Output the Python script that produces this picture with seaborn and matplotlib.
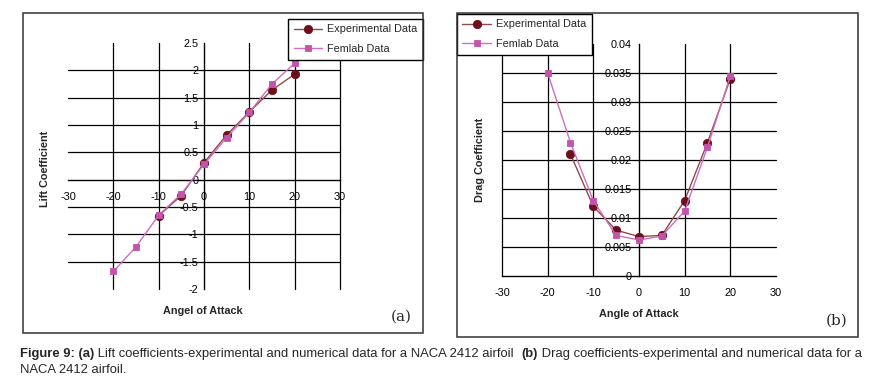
import matplotlib
matplotlib.use("Agg")
import matplotlib.pyplot as plt
import numpy as np
import seaborn as sns
from matplotlib.patches import Rectangle

# %% Data
angle_lift_exp = [-10, -5, 0, 5, 10, 15, 20]
lift_exp = [-0.66, -0.29, 0.31, 0.82, 1.24, 1.64, 1.93]
angle_lift_fem = [-20, -15, -10, -5, 0, 5, 10, 15, 20]
lift_fem = [-1.68, -1.23, -0.65, -0.26, 0.28, 0.77, 1.23, 1.75, 2.13]

angle_drag_exp = [-15, -10, -5, 0, 5, 10, 15, 20]
drag_exp = [0.021, 0.012, 0.0079, 0.0068, 0.007, 0.013, 0.023, 0.034]
angle_drag_fem = [-20, -15, -10, -5, 0, 5, 10, 15, 20]
drag_fem = [0.035, 0.023, 0.013, 0.007, 0.0062, 0.0069, 0.0112, 0.0222, 0.0345]

x_ticks = [-30, -20, -10, 0, 10, 20, 30]
lift_ticks = [-2, -1.5, -1, -0.5, 0, 0.5, 1, 1.5, 2, 2.5]
drag_ticks = [0, 0.005, 0.01, 0.015, 0.02, 0.025, 0.03, 0.035, 0.04]

series_names = ["Experimental Data", "Femlab Data"]

# %% Style
sns.set_style("white")
plt.rcParams["font.family"] = ["Liberation Sans", "DejaVu Sans"]
plt.rcParams["axes.unicode_minus"] = False

EXP_LINE = "#8E4B4B"
EXP_MARK = "#6E0F1C"
FEM_LINE = "#CF6DBE"
FEM_MARK = "#C254AC"

fig = plt.figure(figsize=(8.75, 3.8), dpi=100)
fig.patch.set_facecolor("white")

# panel frames
for rect in [(0.0263, 0.1237, 0.4571, 0.8421), (0.5223, 0.1132, 0.4583, 0.8526)]:
    fig.add_artist(Rectangle(rect[:2], rect[2], rect[3], transform=fig.transFigure,
                             fill=False, edgecolor="#333333", lw=1.1))

ax_l = fig.add_axes([0.0777, 0.2395, 0.3109, 0.6474])
ax_r = fig.add_axes([0.5737, 0.2737, 0.3131, 0.6105])


def draw_series(ax, x, y, line_color, mark_color, marker, size, label):
    sns.lineplot(x=x, y=y, ax=ax, color=line_color, lw=1.0, marker=marker,
                 markersize=size, markerfacecolor=mark_color,
                 markeredgecolor=mark_color, markeredgewidth=0.6,
                 label=label, clip_on=False, zorder=5)


def style_axes(ax, yticks, hide_x, hide_y, xpad, ypad):
    ax.set_xlim(-30, 30)
    ax.set_ylim(yticks[0], yticks[-1])
    ax.set_xticks(x_ticks)
    ax.set_yticks(yticks)
    ax.set_xticklabels([f"{v:g}" for v in x_ticks])
    ax.set_yticklabels([f"{v:g}" for v in yticks])
    for s in ["top", "right"]:
        ax.spines[s].set_visible(False)
    ax.spines["left"].set_position(("data", 0))
    ax.spines["bottom"].set_position(("data", 0))
    for s in ["left", "bottom"]:
        ax.spines[s].set_color("black")
        ax.spines[s].set_linewidth(1.0)
    ax.grid(True, color="black", lw=0.9)
    ax.set_axisbelow(True)
    for tick, v in zip(ax.xaxis.get_major_ticks(), x_ticks):
        tick.gridline.set_clip_on(False)
        if v in hide_x:
            tick.gridline.set_visible(False)
    for tick, v in zip(ax.yaxis.get_major_ticks(), yticks):
        tick.gridline.set_clip_on(False)
        if v in hide_y:
            tick.gridline.set_visible(False)
    ax.tick_params(axis="both", direction="inout", length=4, width=0.8,
                   labelsize=7.8, colors="black")
    ax.tick_params(axis="x", pad=xpad)
    ax.tick_params(axis="y", pad=ypad)
    ax.set_facecolor("none")


def add_legend(ax, loc, anchor):
    leg = ax.legend(loc=loc, bbox_to_anchor=anchor, bbox_transform=fig.transFigure,
                    fontsize=7.8, frameon=True, fancybox=False, edgecolor="black",
                    framealpha=1, handlelength=2.6, borderpad=0.5, labelspacing=0.9,
                    handletextpad=0.5, borderaxespad=0)
    leg.get_frame().set_linewidth(1.0)


# %% Panel (a): lift
draw_series(ax_l, angle_lift_exp, lift_exp, EXP_LINE, EXP_MARK, "o", 6, series_names[0])
draw_series(ax_l, angle_lift_fem, lift_fem, FEM_LINE, FEM_MARK, "s", 5, series_names[1])
style_axes(ax_l, lift_ticks, hide_x=[-30, 0], hide_y=[-2, 0, 2.5], xpad=7, ypad=2)
ax_l.set_xlabel("Angel of Attack", fontsize=7.8, fontweight="bold")
ax_l.set_ylabel("Lift Coefficient", fontsize=7.8, fontweight="bold")
ax_l.xaxis.set_label_coords(0.496, -0.069)
ax_l.yaxis.set_label_coords(-0.066, 0.49)
add_legend(ax_l, "upper right", (0.4834, 0.95))
fig.text(0.459, 0.166, "(a)", family="DejaVu Serif", fontsize=11, ha="center", va="center")

# %% Panel (b): drag
draw_series(ax_r, angle_drag_exp, drag_exp, EXP_LINE, EXP_MARK, "o", 6, series_names[0])
draw_series(ax_r, angle_drag_fem, drag_fem, FEM_LINE, FEM_MARK, "s", 5, series_names[1])
style_axes(ax_r, drag_ticks, hide_x=[0, 30], hide_y=[0, 0.04], xpad=7, ypad=3)
ax_r.set_xlabel("Angle of Attack", fontsize=7.8, fontweight="bold")
ax_r.set_ylabel("Drag Coefficient", fontsize=7.8, fontweight="bold")
ax_r.xaxis.set_label_coords(0.5, -0.142)
ax_r.yaxis.set_label_coords(-0.062, 0.5)
add_legend(ax_r, "upper left", (0.5223, 0.963))
fig.text(0.9566, 0.155, "(b)", family="DejaVu Serif", fontsize=11, ha="center", va="center")

# %% Caption with bold pieces
caption_line1 = [("Figure 9: (a)", "bold"),
                 (" Lift coefficients-experimental and numerical data for a NACA 2412 airfoil  ", "normal"),
                 ("(b)", "bold"),
                 (" Drag coefficients-experimental and numerical data for a", "normal")]
caption_line2 = "NACA 2412 airfoil."
CAP_SIZE = 9.35

prev = fig.text(20 / 875, 1 - 354 / 380, caption_line1[0][0], fontsize=CAP_SIZE,
                fontweight=caption_line1[0][1], va="center", ha="left")
for txt, weight in caption_line1[1:]:
    prev = ax_l.annotate(txt, xy=(1, 0), xycoords=prev, va="bottom", ha="left",
                         fontsize=CAP_SIZE, fontweight=weight, annotation_clip=False)
fig.text(20 / 875, 1 - 370 / 380, caption_line2, fontsize=CAP_SIZE, va="center", ha="left")

plt.savefig("out.png", dpi=100, facecolor="white")
plt.close()
